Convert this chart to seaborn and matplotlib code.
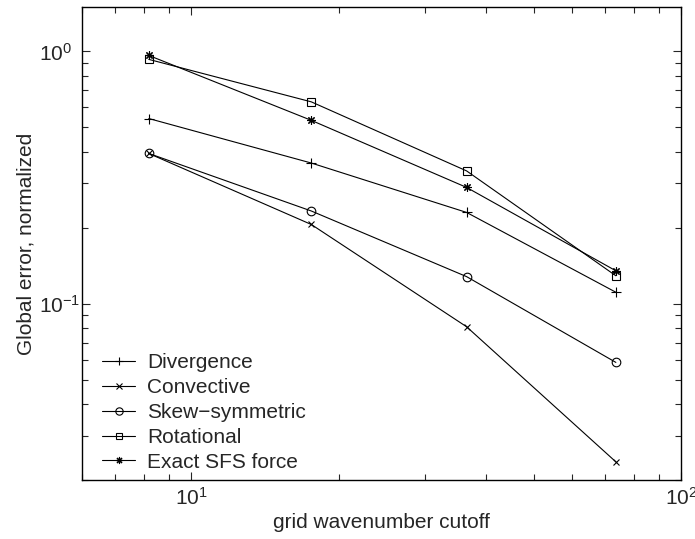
import matplotlib
matplotlib.use("Agg")
import matplotlib.pyplot as plt
import seaborn as sns
from matplotlib.ticker import LogLocator, NullFormatter

# grid wavenumber cutoffs and normalized global errors
cutoff = [8.2, 17.6, 36.5, 73.6]
divergence = [0.542, 0.361, 0.230, 0.111]
convective = [0.394, 0.206, 0.081, 0.0236]
skew_symmetric = [0.394, 0.233, 0.128, 0.0585]
rotational = [0.930, 0.631, 0.336, 0.129]
exact_sfs = [0.964, 0.533, 0.289, 0.135]

series_names = ["Divergence", "Convective", "Skew\u2212symmetric", "Rotational", "Exact SFS force"]
series_values = [divergence, convective, skew_symmetric, rotational, exact_sfs]
# matlab-like markers; (8, 2, 0) is an asterisk
series_markers = ["+", "x", "o", "s", (8, 2, 0)]
marker_sizes = [7, 5, 6.2, 5.2, 6]

sns.set_style("ticks")
plt.rcParams["font.family"] = ["Liberation Sans", "DejaVu Sans"]
plt.rcParams["mathtext.fontset"] = "custom"
plt.rcParams["mathtext.rm"] = "Liberation Sans"
plt.rcParams["mathtext.it"] = "Liberation Sans"

fig = plt.figure(figsize=(6.95, 5.39), dpi=100)
ax = fig.add_axes([0.1184, 0.1095, 0.98 - 0.1184, 0.987 - 0.1095])

for name, vals, m, ms in zip(series_names, series_values, series_markers, marker_sizes):
    sns.lineplot(x=cutoff, y=vals, ax=ax, color="k", marker=m, markersize=ms,
                 markeredgecolor="k", markerfacecolor="none", markeredgewidth=0.8,
                 linewidth=0.8, label=name)

ax.set_xscale("log")
ax.set_yscale("log")
ax.set_xlim(6, 100)
ax.set_ylim(0.02, 1.5)

ax.xaxis.set_major_locator(LogLocator(base=10, numticks=10))
ax.yaxis.set_major_locator(LogLocator(base=10, numticks=10))
ax.xaxis.set_minor_locator(LogLocator(base=10, subs=range(2, 10), numticks=20))
ax.yaxis.set_minor_locator(LogLocator(base=10, subs=range(2, 10), numticks=20))
ax.xaxis.set_minor_formatter(NullFormatter())
ax.yaxis.set_minor_formatter(NullFormatter())

ax.tick_params(which="both", direction="in", top=True, right=True, labelsize=15, width=0.8)
ax.tick_params(which="major", length=6)
# matlab lines up the "10" of each y label, so left-align them
ax.tick_params(axis="y", which="major", pad=31)
ax.tick_params(axis="x", which="major", pad=5)
ax.tick_params(which="minor", length=4)
for lab in ax.get_yticklabels():
    lab.set_horizontalalignment("left")
for s in ax.spines.values():
    s.set_linewidth(1.0)
    s.set_color("k")

ax.set_xlabel("grid wavenumber cutoff", fontsize=15)
ax.set_ylabel("Global error, normalized", fontsize=15)
ax.xaxis.set_label_coords(0.5, -0.07)
ax.yaxis.set_label_coords(-0.078, 0.5)

leg = ax.legend(loc="lower left", bbox_to_anchor=(0.019, 0.0), frameon=False,
                fontsize=15, handlelength=1.6, handletextpad=0.55,
                labelspacing=0.28, borderaxespad=0.0, markerscale=0.85)

fig.savefig("out.png", dpi=100)
